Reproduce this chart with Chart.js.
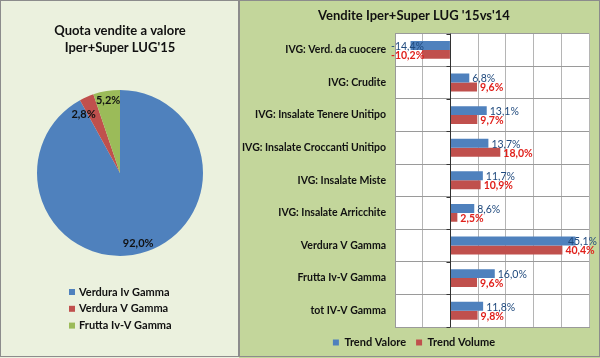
<!DOCTYPE html>
<html><head><meta charset="utf-8">
<script src="https://cdn.jsdelivr.net/npm/chart.js@4.4.0/dist/chart.umd.min.js"></script>
<style>
html,body{margin:0;padding:0;background:#fff;}
#wrap{position:relative;width:600px;height:358px;overflow:hidden;}
#left{position:absolute;left:0;top:0;width:239px;height:358px;background:#ebf1de;}
#right{position:absolute;left:239px;top:0;width:361px;height:358px;background:#c3d69b;}
canvas{display:block;}
.frame{position:absolute;box-sizing:border-box;border:1px solid #8c8c8c;pointer-events:none;}
</style></head><body>
<div id="wrap">
<div id="left"><canvas id="pie" width="239" height="358"></canvas></div>
<div id="right"><canvas id="bar" width="361" height="358"></canvas></div>
<div class="frame" style="left:0;top:0;width:239px;height:357px"></div>
<div class="frame" style="left:239px;top:0;width:361px;height:357px"></div>
</div>
<script>
// ---- data ----
const pieTitle = ['Quota vendite a valore', "Iper+Super LUG'15"];
const pieLabels = ['Verdura Iv Gamma', 'Verdura V Gamma', 'Frutta Iv-V Gamma'];
const pieValues = [92.0, 2.8, 5.2];

const barTitle = "Vendite Iper+Super LUG '15vs'14";
const barCategories = [
  'IVG: Verd. da cuocere',
  'IVG: Crudite',
  'IVG: Insalate Tenere Unitipo',
  'IVG: Insalate Croccanti Unitipo',
  'IVG: Insalate Miste',
  'IVG: Insalate Arricchite',
  'Verdura V Gamma',
  'Frutta Iv-V Gamma',
  'tot IV-V Gamma'
];
const seriesNames = ['Trend Valore', 'Trend Volume'];
const trendValore = [-14.4, 6.8, 13.1, 13.7, 11.7, 8.6, 45.1, 16.0, 11.8];
const trendVolume = [-10.2, 9.6, 9.7, 18.0, 10.9, 2.5, 40.4, 9.6, 9.8];
const xMin = -20, xMax = 50, xStep = 10;

// ---- styles ----
const pieColors = ['#4f81bd', '#c0504d', '#9bbb59'];
const FONT = 'Lato, "Open Sans", sans-serif';
Chart.defaults.font.family = FONT;
const fmt = v => v.toFixed(1).replace('.', ',') + '%';

const pieLabelPlugin = {
  id: 'pieLabels',
  afterDatasetsDraw(chart) {
    const ctx = chart.ctx;
    const meta = chart.getDatasetMeta(0);
    const data = chart.data.datasets[0].data;
    ctx.save();
    ctx.font = 'bold 11px ' + FONT;
    ctx.fillStyle = '#111';
    ctx.textAlign = 'center';
    ctx.textBaseline = 'middle';
    meta.data.forEach((arc, i) => {
      const p = arc.getProps(['x', 'y', 'startAngle', 'endAngle', 'outerRadius']);
      const mid = (p.startAngle + p.endAngle) / 2;
      const small = data[i] < 4;
      const r = p.outerRadius * (small ? 0.82 : 0.88);
      let tx = p.x + Math.cos(mid) * r;
      let ty = p.y + Math.sin(mid) * r;
      if (small) { tx -= 9; ty += 4; }
      ctx.fillText(fmt(data[i]), tx, ty);
    });
    ctx.restore();
  }
};

const pieLegendPlugin = {
  id: 'pieLegend',
  afterDraw(chart) {
    const ctx = chart.ctx;
    const ds = chart.data.datasets[0];
    const top = chart.chartArea.bottom + 36;
    ctx.save();
    ctx.font = 'bold 11px ' + FONT;
    ctx.textBaseline = 'middle';
    ctx.textAlign = 'left';
    chart.data.labels.forEach((lab, i) => {
      const y = top + i * 16.8;
      ctx.fillStyle = ds.backgroundColor[i];
      ctx.fillRect(69, y - 3, 6, 6);
      ctx.fillStyle = '#111';
      ctx.fillText(lab, 79, y);
    });
    ctx.restore();
  }
};

new Chart(document.getElementById('pie'), {
  type: 'pie',
  data: { labels: pieLabels, datasets: [{ data: pieValues, backgroundColor: pieColors, borderWidth: 0 }] },
  options: {
    responsive: false, animation: false,
    layout: { padding: { left: 37, right: 36, top: 0, bottom: 102 } },
    plugins: {
      legend: { display: false },
      tooltip: { enabled: false },
      title: { display: true, text: pieTitle, color: '#111',
        font: { size: 13, weight: 'bold', lineHeight: 1.3 }, padding: { top: 22, bottom: 34 } }
    }
  },
  plugins: [pieLabelPlugin, pieLegendPlugin]
});

const plotBgPlugin = {
  id: 'plotBg',
  beforeDraw(chart) {
    const a = chart.chartArea, ctx = chart.ctx;
    ctx.save(); ctx.fillStyle = '#ffffff';
    ctx.fillRect(a.left, a.top, a.right - a.left, a.bottom - a.top);
    ctx.restore();
  }
};

const zeroTickPlugin = {
  id: 'zeroTicks',
  afterDatasetsDraw(chart) {
    const ctx = chart.ctx, xs = chart.scales.x, ys = chart.scales.y, a = chart.chartArea;
    const x0 = Math.round(xs.getPixelForValue(0)) + 0.5;
    const n = chart.data.labels.length;
    ctx.save();
    ctx.strokeStyle = '#333'; ctx.lineWidth = 1;
    ctx.beginPath();
    ctx.moveTo(x0, a.top); ctx.lineTo(x0, a.bottom);
    for (let i = 0; i <= n; i++) {
      const y = Math.round(ys.getPixelForValue(i - 0.5)) + 0.5;
      ctx.moveTo(x0 - 4, y); ctx.lineTo(x0, y);
    }
    ctx.stroke();
    ctx.restore();
  }
};

const barLabelPlugin = {
  id: 'barLabels',
  afterDatasetsDraw(chart) {
    const ctx = chart.ctx, a = chart.chartArea;
    ctx.save();
    ctx.textBaseline = 'middle';
    ctx.textAlign = 'left';
    chart.data.datasets.forEach((ds, di) => {
      const meta = chart.getDatasetMeta(di);
      ctx.font = (ds.labelWeight || 'normal') + ' 10.5px ' + FONT;
      ctx.fillStyle = ds.labelColor;
      meta.data.forEach((bar, i) => {
        const v = ds.data[i];
        const t = fmt(v);
        const w = ctx.measureText(t).width;
        let tx;
        if (v >= 0) {
          tx = bar.x + 3;
          if (tx + w > a.right + 8) tx = a.right + 8 - w;
        } else {
          tx = bar.x - 3 - w;
          if (tx < a.left - 4) tx = a.left - 4;
        }
        ctx.fillText(t, tx, bar.y + 1);
      });
    });
    ctx.restore();
  }
};

new Chart(document.getElementById('bar'), {
  type: 'bar',
  data: {
    labels: barCategories,
    datasets: [
      { label: seriesNames[0], data: trendValore, backgroundColor: '#4f81bd', labelColor: '#1f497d', labelWeight: 'normal' },
      { label: seriesNames[1], data: trendVolume, backgroundColor: '#c0504d', labelColor: '#e0201b', labelWeight: 'bold' }
    ]
  },
  options: {
    indexAxis: 'y', responsive: false, animation: false,
    datasets: { bar: { categoryPercentage: 0.55, barPercentage: 1 } },
    layout: { padding: { left: 0, right: 11, top: 0, bottom: 0 } },
    scales: {
      x: {
        min: xMin, max: xMax,
        ticks: { display: false, stepSize: xStep },
        grid: { color: '#b5b5b5', drawTicks: false },
        border: { display: true, color: '#9a9a9a' }
      },
      y: {
        afterFit: s => { s.width = 156; },
        grid: { color: '#9a9a9a', offset: true, drawTicks: false },
        border: { color: '#9a9a9a' },
        ticks: { color: '#111', font: { size: 10.5, weight: 'bold' }, padding: 9, autoSkip: false }
      }
    },
    plugins: {
      legend: { position: 'bottom',
        labels: { boxWidth: 6, boxHeight: 6, color: '#111', font: { size: 11, weight: 'bold' }, padding: 10 } },
      title: { display: true, text: barTitle, color: '#111',
        font: { size: 13, weight: 'bold' }, padding: { top: 8, bottom: 10 } },
      tooltip: { enabled: false }
    }
  },
  plugins: [plotBgPlugin, zeroTickPlugin, barLabelPlugin]
});
</script>
</body></html>
